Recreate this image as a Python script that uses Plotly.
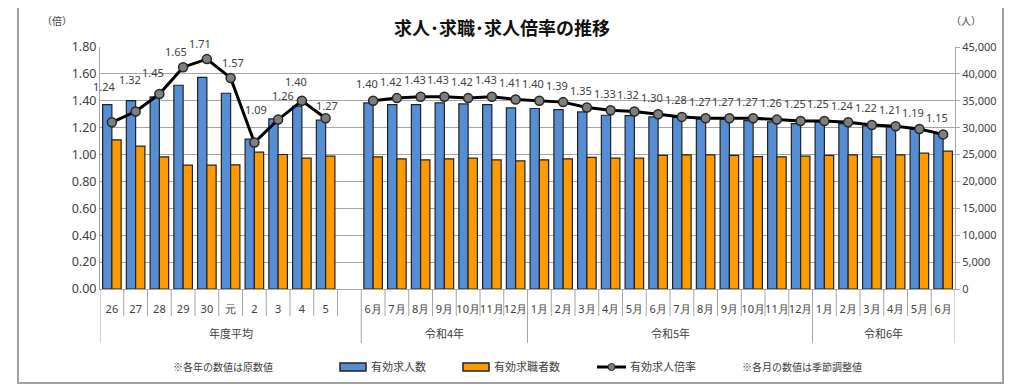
import plotly.graph_objects as go

# ---------------- data ----------------
year_labels = ["26", "27", "28", "29", "30", "元", "2", "3", "4", "5"]
r4_months = ["6月", "7月", "8月", "9月", "10月", "11月", "12月"]
r5_months = ["1月", "2月", "3月", "4月", "5月", "6月", "7月", "8月", "9月", "10月", "11月", "12月"]
r6_months = ["1月", "2月", "3月", "4月", "5月", "6月"]
group_labels = ["年度平均", "令和4年", "令和5年", "令和6年"]

jobs_year = [34300, 35040, 35710, 37890, 39370, 36400, 27860, 31630, 33990, 31390]
seekers_year = [27730, 26560, 24570, 23030, 23030, 23090, 25440, 25010, 24330, 24700]
ratio_year = [1.24, 1.32, 1.45, 1.65, 1.71, 1.57, 1.09, 1.26, 1.40, 1.27]

jobs_month = [34600, 34300, 34300, 34600, 34410, 34300, 33670,
              33560, 33370, 32930, 32310, 32250, 32000, 31890, 31630, 31600, 31300, 31070, 30770,
              31070, 30770, 30270, 30150, 29700, 28900]
seekers_month = [24570, 24200, 24010, 24200, 24330, 24010, 23830,
                 24010, 24200, 24460, 24330, 24330, 24830, 24940, 24940, 24830, 24600, 24570, 24700,
                 24830, 24940, 24570, 24940, 25260, 25630]
ratio_month = [1.40, 1.42, 1.43, 1.43, 1.42, 1.43, 1.41,
               1.40, 1.39, 1.35, 1.33, 1.32, 1.30, 1.28, 1.27, 1.27, 1.27, 1.26, 1.25,
               1.25, 1.24, 1.22, 1.21, 1.19, 1.15]

# label offsets (pixels) for the ratio data labels of the annual points
year_label_dy = [36, 32, 22, 16, 16, 15, 33, 24, 19, 13]
year_label_dx = [-7, -6, -6, -7, -7, 2, 2, 5, -6, 1]
month_label_dy = 17
month_label_dx = -6

# ---------------- assemble ----------------
month_labels = r4_months + r5_months + r6_months
tick_text = year_labels + [""] + month_labels
n = len(tick_text)
xs = list(range(n))
gap = len(year_labels)

jobs = jobs_year + [None] + jobs_month
seekers = seekers_year + [None] + seekers_month
ratio = ratio_year + [None] + ratio_month

BLUE = "#558ED5"
ORANGE = "#FF9A00"
GRID = "#A6A6A6"
TXT = "#404040"
NUMFONT = "Liberation Sans Narrow, Arial Narrow, Noto Sans"
JPFONT = "Noto Sans CJK JP"

# page body has an 8px margin: work in page pixels and convert to figure pixels
OFF = 8
W, H = 1024, 389
L, R, T, B = 100 - OFF, 955 - OFF, 47 - OFF, 289 - OFF  # plot area in figure pixels


def px(x):  # page pixel -> paper x
    return (x - OFF - L) / (R - L)


def py(y):  # page pixel -> paper y
    return (B - (y - OFF)) / (B - T)


fig = go.Figure()
fig.add_trace(go.Bar(x=xs, y=jobs, name="有効求人数", marker=dict(color=BLUE, line=dict(color="#222222", width=1.2)),
                     yaxis="y", showlegend=False))
fig.add_trace(go.Bar(x=xs, y=seekers, name="有効求職者数", marker=dict(color=ORANGE, line=dict(color="#222222", width=1.2)),
                     yaxis="y", showlegend=False))
fig.add_trace(go.Scatter(x=xs, y=ratio, name="有効求人倍率", mode="lines+markers", yaxis="y2",
                         connectgaps=False,
                         line=dict(color="black", width=3),
                         marker=dict(size=9, color="#7F7F7F", line=dict(color="#262626", width=1.5)),
                         showlegend=False))

annotations = []
shapes = []


def note(x, y, text, size, xanchor="center", color=TXT, family=JPFONT):
    annotations.append(dict(x=px(x), y=py(y), xref="paper", yref="paper", text=text, showarrow=False,
                            xanchor=xanchor, yanchor="middle", font=dict(family=family, size=size, color=color)))


# data labels for ratio
for i, v in enumerate(ratio):
    if v is None:
        continue
    if i < gap:
        dy, dx = year_label_dy[i], year_label_dx[i]
    else:
        dy, dx = month_label_dy, month_label_dx
    annotations.append(dict(x=i, y=v, xref="x", yref="y2", text=f"{v:.2f}", showarrow=False,
                            xanchor="center", yanchor="middle",
                            yshift=dy, xshift=dx, font=dict(family=NUMFONT, size=11, color=TXT)))

# category separators (short) and group separators (long)
group_bounds = [-0.5, gap + 0.5, gap + 0.5 + len(r4_months), gap + 0.5 + len(r4_months) + len(r5_months), n - 0.5]
for b in [i - 0.5 for i in range(n + 1)]:
    if any(abs(b - g) < 1e-9 for g in group_bounds):
        continue
    shapes.append(dict(type="line", xref="x", yref="paper", x0=b, x1=b, y0=py(289), y1=py(316),
                       line=dict(color=GRID, width=1)))
for g in group_bounds:
    shapes.append(dict(type="line", xref="x", yref="paper", x0=g, x1=g, y0=py(289), y1=py(343),
                       line=dict(color=GRID, width=1)))

# group labels
for k, lab in enumerate(group_labels):
    cx = (group_bounds[k] + group_bounds[k + 1]) / 2
    annotations.append(dict(x=cx, y=py(333), xref="x", yref="paper", text=lab, showarrow=False,
                            xanchor="center", yanchor="middle",
                            font=dict(family=JPFONT, size=11, color=TXT)))

# title and unit labels
note(502, 27, "<b>求人･求職･求人倍率の推移</b>", 18, color="#111111")
note(57, 20, "（倍）", 10)
note(966, 20, "（人）", 10)

# notes
note(223, 366, "※各年の数値は原数値", 10)
note(802, 366, "※各月の数値は季節調整値", 10)

# legend (drawn manually)
shapes.append(dict(type="rect", xref="paper", yref="paper", x0=px(340), x1=px(366), y0=py(371), y1=py(363),
                   fillcolor=BLUE, line=dict(color="#222222", width=1.5)))
shapes.append(dict(type="rect", xref="paper", yref="paper", x0=px(463), x1=px(489), y0=py(371), y1=py(363),
                   fillcolor=ORANGE, line=dict(color="#222222", width=1.5)))
shapes.append(dict(type="line", xref="paper", yref="paper", x0=px(597), x1=px(626), y0=py(367), y1=py(367),
                   line=dict(color="black", width=3)))
shapes.append(dict(type="circle", xref="paper", yref="paper", x0=px(608), x1=px(615), y0=py(370.5), y1=py(363.5),
                   fillcolor="#7F7F7F", line=dict(color="#262626", width=1)))
for xx, lab in [(369, "有効求人数"), (492, "有効求職者数"), (628, "有効求人倍率")]:
    note(xx, 366, lab, 11, xanchor="left")

# outer frame
shapes.append(dict(type="rect", xref="paper", yref="paper", x0=px(18), x1=px(1003), y0=py(383), y1=py(3),
                   line=dict(color="#A0A0A0", width=2), fillcolor="rgba(0,0,0,0)", layer="below"))

fig.update_layout(
    width=W, height=H,
    margin=dict(l=L, r=W - R, t=T, b=H - B, autoexpand=False),
    paper_bgcolor="white", plot_bgcolor="white",
    barmode="group", bargap=0.22, bargroupgap=0,
    showlegend=False,
    font=dict(family=JPFONT, color=TXT),
    xaxis=dict(range=[-0.5, n - 0.5], tickmode="array", tickvals=xs, ticktext=tick_text,
               tickangle=0, automargin=False,
               ticks="outside", ticklen=10, tickcolor="rgba(0,0,0,0)",
               tickfont=dict(family=NUMFONT, size=11, color=TXT),
               showline=True, linecolor=GRID, linewidth=1, showgrid=False, zeroline=False),
    yaxis=dict(range=[0, 45000], dtick=5000, tickformat=",d", side="right", automargin=False,
               showgrid=True, gridcolor=GRID, gridwidth=1, zeroline=False,
               showline=True, linecolor=GRID, linewidth=1, ticks="outside", ticklen=4, tickcolor=GRID,
               tickfont=dict(family=NUMFONT, size=11, color=TXT)),
    yaxis2=dict(range=[0, 1.8], dtick=0.2, tickformat=".2f", side="left", overlaying="y", automargin=False,
                showgrid=False, zeroline=False, showline=True, linecolor=GRID, linewidth=1,
                ticks="", tickfont=dict(family=NUMFONT, size=12.5, color=TXT)),
    annotations=annotations,
    shapes=shapes,
)

fig.write_html("out.html")
